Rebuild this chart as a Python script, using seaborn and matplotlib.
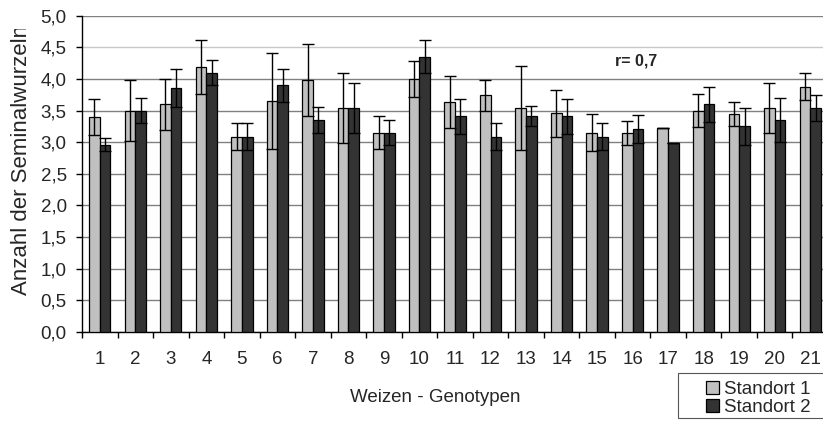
import numpy as np
import pandas as pd
import seaborn as sns
import matplotlib.pyplot as plt
from matplotlib.patches import Rectangle
from matplotlib.transforms import Bbox, TransformedBbox
from matplotlib.ticker import FuncFormatter, MultipleLocator

# values
genotypes = [str(i) for i in range(1, 22)]
standort1 = [3.40, 3.50, 3.60, 4.19, 3.09, 3.65, 3.99, 3.54, 3.15, 4.00, 3.64,
             3.74, 3.54, 3.46, 3.15, 3.15, 3.22, 3.50, 3.44, 3.54, 3.88]
standort2 = [2.96, 3.50, 3.86, 4.10, 3.09, 3.90, 3.35, 3.54, 3.15, 4.35, 3.41,
             3.09, 3.41, 3.41, 3.09, 3.21, 2.99, 3.60, 3.25, 3.35, 3.54]
err1 = [0.28, 0.48, 0.40, 0.43, 0.21, 0.76, 0.57, 0.55, 0.26, 0.29, 0.41,
        0.25, 0.66, 0.37, 0.29, 0.19, 0.00, 0.26, 0.19, 0.39, 0.21]
err2 = [0.10, 0.20, 0.30, 0.20, 0.21, 0.26, 0.20, 0.39, 0.20, 0.26, 0.28,
        0.21, 0.16, 0.28, 0.21, 0.22, 0.00, 0.28, 0.29, 0.35, 0.20]
series_names = ["Standort 1", "Standort 2"]
colors = ["#c0c0c0", "#333333"]

df = pd.DataFrame({
    "Genotyp": genotypes * 2,
    "Standort": [series_names[0]] * 21 + [series_names[1]] * 21,
    "Wert": standort1 + standort2,
    "Fehler": err1 + err2,
})

sns.set_style("white")
plt.rcParams["font.family"] = ["Liberation Sans", "DejaVu Sans"]
fs = 13.5

fig = plt.figure(figsize=(8.23, 4.21), dpi=100)
ax = fig.add_axes([82 / 823, 1 - 332 / 421, 746 / 823, (332 - 15.7) / 421])

sns.barplot(data=df, x="Genotyp", y="Wert", hue="Standort", order=genotypes,
            hue_order=series_names, palette=colors, width=0.6, errorbar=None,
            edgecolor="black", linewidth=0.9, saturation=1, ax=ax, zorder=3)

# error bars on top of each bar
for cont, name in zip(ax.containers, series_names):
    sub = df[df["Standort"] == name]
    xs = [b.get_x() + b.get_width() / 2 for b in cont]
    ax.errorbar(xs, sub["Wert"].values, yerr=sub["Fehler"].values, fmt="none",
                ecolor="black", elinewidth=1, capsize=4.5, capthick=1, zorder=4)

ax.set_ylim(0, 5)
ax.set_xlim(-0.5, 20.5)
ax.yaxis.set_major_locator(MultipleLocator(0.5))
ax.yaxis.set_major_formatter(FuncFormatter(lambda v, p: f"{v:.1f}".replace(".", ",")))
ax.set_axisbelow(True)
ax.yaxis.grid(True, color="#808080", linewidth=1)
for line, val in zip(ax.get_ygridlines(), ax.get_yticks()):
    if abs(val - 4.5) < 1e-6:
        line.set_color("#c8c8c8")

# category separator ticks
ax.set_xticks(np.arange(-0.5, 21, 1), minor=True)
ax.tick_params(axis="x", which="major", length=0, labelsize=fs, pad=14)
ax.tick_params(axis="x", which="minor", length=4, width=1, color="black",
               direction="out")
ax.tick_params(axis="y", length=4, width=1, color="black", direction="out",
               labelsize=fs, pad=7)
ax.xaxis.set_ticks_position("bottom")
ax.yaxis.set_ticks_position("left")

for s in ["top", "right"]:
    ax.spines[s].set_visible(False)
for s in ["left", "bottom"]:
    ax.spines[s].set_color("black")
    ax.spines[s].set_linewidth(1)

ax.set_xlabel("")
ax.set_ylabel("")
# y title is cut off at the top in the original
yt = fig.text(22 / 823, 1 - 295 / 421, "Anzahl der Seminalwurzeln", rotation=90,
              ha="center", va="bottom", fontsize=16, clip_on=True)
yt.set_clip_box(TransformedBbox(Bbox([[0, 0], [0.1, 1 - 29 / 421]]),
                                fig.transFigure))
fig.text(435 / 823, 1 - 397 / 421, "Weizen - Genotypen", ha="center",
         va="center", fontsize=fs)

ax.text(15.1, 4.29, "r= 0,7", fontsize=11.5, fontweight="bold", ha="center",
        va="center")

# legend box (Excel style, wider left padding)
fig.patches.append(Rectangle((678 / 823, 1 - 418 / 421), 160 / 823, 45 / 421,
                             transform=fig.transFigure, facecolor="white",
                             edgecolor="#555555", linewidth=0.8, zorder=1))
handles, labels = ax.get_legend_handles_labels()
ax.legend_.remove()
leg = fig.legend(handles, labels, loc="upper left",
                 bbox_to_anchor=(700 / 823, 1 - 375 / 421),
                 bbox_transform=fig.transFigure, frameon=False, fontsize=fs,
                 handlelength=0.7, handleheight=0.7, handletextpad=0.3,
                 borderpad=0.3, labelspacing=0.05, borderaxespad=0)
leg.set_zorder(6)

fig.savefig("out.png", dpi=100)
